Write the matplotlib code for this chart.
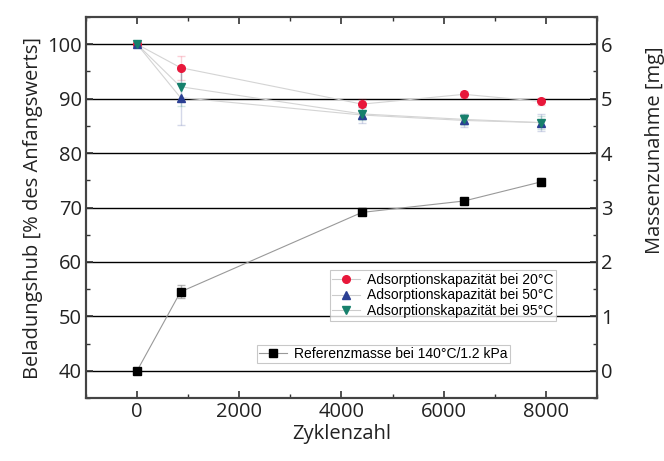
import matplotlib
matplotlib.use("Agg")
import matplotlib.pyplot as plt
from matplotlib.ticker import MultipleLocator

# cycles
zyklen = [0, 850, 4400, 6400, 7900]

# adsorption capacity in % of the initial value
kap_20 = [100, 95.7, 89.0, 90.8, 89.5]
kap_50 = [100, 90.2, 87.0, 86.0, 85.6]
kap_95 = [100, 92.2, 87.2, 86.2, 85.6]
err_20 = [0.4, 2.2, 1.0, 0.6, 0.6]
err_50 = [0.4, 5.0, 1.5, 1.2, 1.5]
err_95 = [0.4, 3.5, 1.2, 1.0, 1.2]

# reference mass gain in mg
ref_masse = [0.0, 1.45, 2.91, 3.12, 3.47]
err_ref = [0.03, 0.12, 0.05, 0.05, 0.08]

lab_20 = "Adsorptionskapazität bei 20°C"
lab_50 = "Adsorptionskapazität bei 50°C"
lab_95 = "Adsorptionskapazität bei 95°C"
lab_ref = "Referenzmasse bei 140°C/1.2 kPa"

plt.rcParams["font.family"] = ["Open Sans", "DejaVu Sans"]
fs = 14.5

fig = plt.figure(figsize=(6.64, 4.61), dpi=100)
ax = fig.add_axes([0.1295, 0.1367, 0.7695, 0.8263])
ax2 = ax.twinx()

for y in range(40, 101, 10):
    ax.axhline(y, color="black", lw=1.0, zorder=0)

series = [
    (kap_20, err_20, "#e8173a", "o", lab_20),
    (kap_50, err_50, "#2b3f93", "^", lab_50),
    (kap_95, err_95, "#17806c", "v", lab_95),
]
handles = []
for vals, errs, col, mk, lab in series:
    ax.errorbar(zyklen, vals, yerr=errs, fmt="none", ecolor=col, alpha=0.2,
                elinewidth=1.0, capsize=3, zorder=2)
    ax.plot(zyklen, vals, color="#d4d4d4", lw=0.8, zorder=1)
    ax.plot(zyklen, vals, ls="none", marker=mk, color=col, ms=5.5, zorder=3)
    h, = ax.plot([], [], color="#cccccc", lw=0.8, marker=mk, mfc=col, mec=col, ms=5.5, label=lab)
    handles.append(h)

ax2.errorbar(zyklen, ref_masse, yerr=err_ref, fmt="none", ecolor="#888888", alpha=0.6,
             elinewidth=1.0, capsize=3, zorder=2)
ax2.plot(zyklen, ref_masse, color="#999999", lw=0.8, marker="s", mfc="black", mec="black",
         ms=5.5, label=lab_ref, zorder=3)

ax.set_xlim(-1000, 9000)
ax.set_ylim(35, 105)
ax2.set_ylim(-0.5, 6.5)

ax.xaxis.set_major_locator(MultipleLocator(2000))
ax.xaxis.set_minor_locator(MultipleLocator(1000))
ax.yaxis.set_major_locator(MultipleLocator(10))
ax.yaxis.set_minor_locator(MultipleLocator(5))
ax2.yaxis.set_major_locator(MultipleLocator(1))
ax2.yaxis.set_minor_locator(MultipleLocator(0.5))

ax.tick_params(axis="x", which="both", direction="in", top=True, labelsize=fs, colors="#333333",
               labelcolor="#222222")
ax.tick_params(axis="y", which="both", direction="in", labelsize=fs, colors="#333333",
               labelcolor="#222222")
ax2.tick_params(axis="y", which="both", direction="in", labelsize=fs, colors="#333333",
                labelcolor="#222222")
for a in (ax, ax2):
    a.tick_params(which="major", length=5, width=1.2, pad=3)
    a.tick_params(which="minor", length=3, width=1.0)
    for s in a.spines.values():
        s.set_color("#444444")
        s.set_linewidth(1.5)

ax.set_xlabel("Zyklenzahl", fontsize=fs, color="#222222", labelpad=1)
ax.set_ylabel("Beladungshub [% des Anfangswerts]", fontsize=fs, color="#222222", labelpad=3)
ax2.set_ylabel("Massenzunahme [mg]", fontsize=fs, color="#222222")
ax2.yaxis.set_label_coords(1.095, 0.65)

leg_font = {"family": ["Liberation Sans", "DejaVu Sans"], "size": 10}
leg1 = ax.legend(handles=handles, loc="upper left", bbox_to_anchor=(0.477, 0.336),
                 prop=leg_font, frameon=True, fancybox=False, edgecolor="#bbbbbb",
                 handlelength=2.0, handletextpad=0.5, borderpad=0.2, labelspacing=0.12,
                 borderaxespad=0)
leg1.get_frame().set_linewidth(0.8)
leg2 = ax2.legend(loc="upper left", bbox_to_anchor=(0.335, 0.139),
                  prop=leg_font, frameon=True, fancybox=False, edgecolor="#bbbbbb",
                  handlelength=2.0, handletextpad=0.5, borderpad=0.15, borderaxespad=0)
leg2.get_frame().set_linewidth(0.8)

fig.savefig("out.png", dpi=100)
